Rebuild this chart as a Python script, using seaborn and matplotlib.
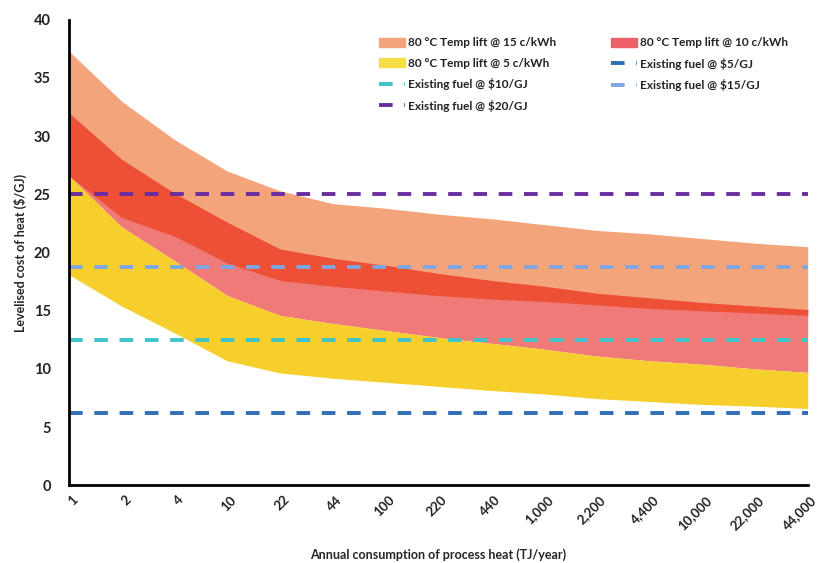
import matplotlib

matplotlib.use("Agg")
import matplotlib.pyplot as plt
import matplotlib.transforms as mtransforms
import numpy as np
import pandas as pd
import seaborn as sns
from matplotlib.patches import Patch
from matplotlib.lines import Line2D

# 年耗热量分类（x 轴，等间距）
consumption = ["1", "2", "4", "10", "22", "44", "100", "220", "440", "1,000",
               "2,200", "4,400", "10,000", "22,000", "44,000"]

# 各电价下的平准化热成本区间（$/GJ），从图上读取的可见边界
upper_15c = [37.3, 33.0, 29.7, 27.0, 25.3, 24.2, 23.8, 23.3, 22.9, 22.4, 21.9, 21.6, 21.2, 20.8, 20.5]
lower_15c = [26.6, 23.0, 21.4, 19.1, 17.6, 17.1, 16.7, 16.3, 16.0, 15.8, 15.5, 15.2, 15.0, 14.8, 14.6]
upper_10c = [32.0, 28.0, 25.1, 22.6, 20.3, 19.5, 18.9, 18.2, 17.6, 17.1, 16.5, 16.1, 15.7, 15.4, 15.1]
upper_5c = [26.6, 22.2, 19.3, 16.3, 14.6, 13.9, 13.3, 12.7, 12.2, 11.7, 11.1, 10.7, 10.4, 10.0, 9.7]
lower_5c = [18.1, 15.4, 13.1, 10.7, 9.65, 9.2, 8.85, 8.5, 8.15, 7.85, 7.45, 7.2, 6.95, 6.8, 6.6]

# 现有燃料成本（$/GJ 热）
fuel_labels = ["Existing fuel @ $5/GJ", "Existing fuel @ $10/GJ",
               "Existing fuel @ $15/GJ", "Existing fuel @ $20/GJ"]
fuel_cost = [6.25, 12.5, 18.75, 25.0]

C_ORANGE = "#F3A47A"
C_PINK = "#F07A78"
C_DARKRED = "#EE5035"
C_YELLOW = "#F6CF2C"
fuel_colors = ["#2F6DB5", "#3EC3C8", "#80A6E2", "#6A2DA0"]

sns.set_theme(style="white")
plt.rcParams["font.family"] = ["Lato", "DejaVu Sans"]

fig = plt.figure(figsize=(8.2, 5.63), dpi=100)
ax = fig.add_axes([0.084, 0.138, 0.901, 0.827])

x = np.arange(len(consumption))
u15, l15 = np.array(upper_15c), np.array(lower_15c)
u10, u5, l5 = np.array(upper_10c), np.array(upper_5c), np.array(lower_5c)

ax.fill_between(x, l15, u15, color=C_ORANGE, lw=0)
ax.fill_between(x, u5, u10, color=C_PINK, lw=0)
ax.fill_between(x, l15, u10, color=C_DARKRED, lw=0)
ax.fill_between(x, l5, u5, color=C_YELLOW, lw=0)

fuel_df = pd.DataFrame(
    [(xi, lab, c) for lab, c in zip(fuel_labels, fuel_cost) for xi in x],
    columns=["x", "fuel", "cost"],
)
sns.lineplot(data=fuel_df, x="x", y="cost", hue="fuel", palette=fuel_colors,
             hue_order=fuel_labels, ax=ax, lw=2.8, legend=False)
for line in ax.lines:
    line.set_dashes((3.5, 3))

ax.set_xlim(0, len(consumption) - 1)
ax.set_ylim(0, 40)
ax.set_yticks(range(0, 41, 5))
ax.set_xticks(x)
ax.set_xticklabels(consumption, rotation=45, ha="right", rotation_mode="anchor")
ax.tick_params(axis="x", labelsize=9.5, colors="#222222", length=0, pad=6)
ax.tick_params(axis="y", labelsize=10.5, colors="#222222", length=0, pad=13)
shift = mtransforms.ScaledTranslation(2 / 72, 0, fig.dpi_scale_trans)
for t in ax.get_xticklabels():
    t.set_transform(t.get_transform() + shift)
for t in ax.get_xticklabels() + ax.get_yticklabels():
    t.set_fontweight("bold")

for side in ["top", "right"]:
    ax.spines[side].set_visible(False)
for side in ["left", "bottom"]:
    ax.spines[side].set_color("black")
    ax.spines[side].set_linewidth(2)

ax.set_xlabel("Annual consumption of process heat (TJ/year)", fontsize=9,
              fontweight="bold", labelpad=12)
ax.set_ylabel("Levelised cost of heat ($/GJ)", fontsize=9, fontweight="bold", labelpad=5)


def fuel_handle(color):
    return Line2D([0], [0], color=color, lw=2.8, dashes=(3.5, 3))


handles = [
    Patch(color=C_ORANGE),
    Patch(color="#F6DC45"),
    fuel_handle(fuel_colors[1]),
    fuel_handle(fuel_colors[3]),
    Patch(color="#EF5F6A"),
    fuel_handle(fuel_colors[0]),
    fuel_handle(fuel_colors[2]),
]
labels = ["80 °C Temp lift @ 15 c/kWh", "80 °C Temp lift @ 5 c/kWh",
          fuel_labels[1], fuel_labels[3], "80 °C Temp lift @ 10 c/kWh",
          fuel_labels[0], fuel_labels[2]]
leg = ax.legend(handles, labels, ncol=2, loc="upper left", bbox_to_anchor=(0.405, 0.985),
                frameon=False, fontsize=8.5, handlelength=2.2, handleheight=0.8,
                handletextpad=0.3, columnspacing=4.6, labelspacing=0.8)
for t in leg.get_texts():
    t.set_fontweight("bold")
    t.set_color("#222222")

fig.savefig("out.png", dpi=100)
plt.close(fig)
